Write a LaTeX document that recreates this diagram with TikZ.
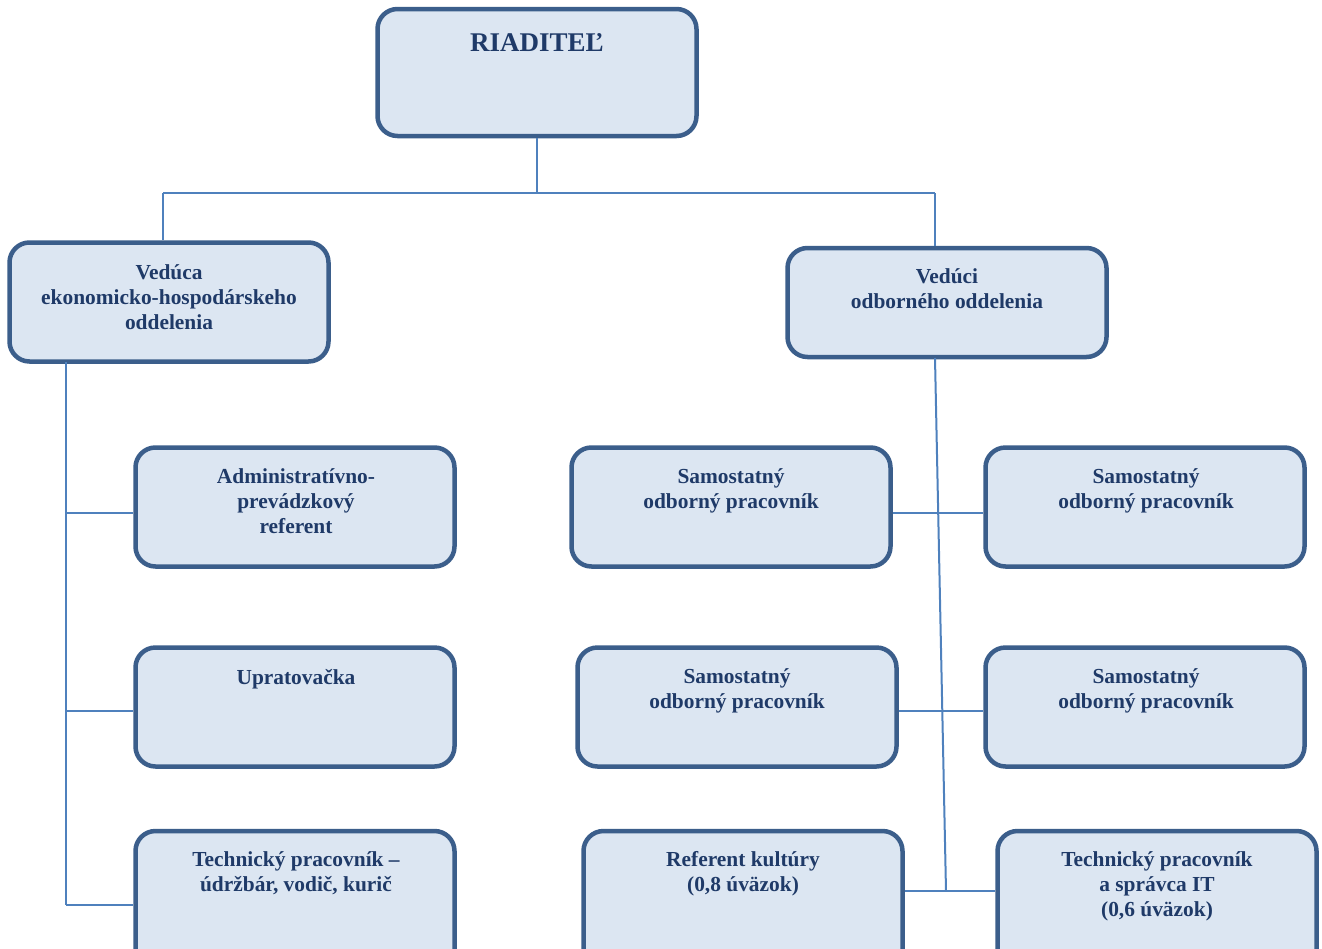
\documentclass[tikz,border=0pt]{standalone}
\usepackage{fontspec}
\setmainfont{Liberation Serif}
\definecolor{boxfill}{RGB}{220,230,242}
\definecolor{boxline}{RGB}{59,94,139}
\definecolor{conn}{RGB}{79,129,189}
\definecolor{txtc}{RGB}{31,58,104}
\newcommand{\fl}{\rule{0pt}{18pt}}
\begin{document}
\begin{tikzpicture}[x=1pt,y=-1pt,
  box/.style={draw=boxline, line width=4.5pt, fill=boxfill, rounded corners=20pt,
    minimum width=319pt, minimum height=119pt, inner sep=0pt},
  txt/.style={font=\bfseries\fontsize{21.4}{25}\selectfont, text=txtc, align=center,
    inner sep=0pt, anchor=north},
  link/.style={draw=conn, line width=2pt}]
\useasboundingbox (0,0) rectangle (1322,948);
\clip (0,0) rectangle (1322,948);
% connector points
\coordinate (jl) at (163,193);
\coordinate (jr) at (935,193);
\coordinate (jm) at (537,193);
\coordinate (ls) at (66,362);
\coordinate (l1) at (66,513);
\coordinate (l2) at (66,711);
\coordinate (l3) at (66,905);
\coordinate (rs) at (935,358);
\coordinate (re) at (946,891);
% boxes
\node[box, minimum height=127pt] (riad) at (537,72.5) {};
\node[box] (ved1) at (169,302) {};
\node[box, minimum height=109pt] (ved2) at (947,302.5) {};
\node[box] (adm) at (295,507) {};
\node[box] (upr) at (295,707) {};
\node[box, minimum height=140pt] (tec1) at (295,901) {};
\node[box] (s1a) at (731,507) {};
\node[box] (s1b) at (1145,507) {};
\node[box] (s2a) at (737,707) {};
\node[box] (s2b) at (1145,707) {};
\node[box, minimum height=140pt] (refk) at (743,901) {};
\node[box, minimum height=140pt] (teit) at (1157,901) {};
% lines
\path[link] (riad.south) -- (jm);
\path[link] (jl) -- (jr);
\path[link] (jl) -- (jl |- ved1.north);
\path[link] (jr) -- (jr |- ved2.north);
\path[link] (ls) -- (l3);
\path[link] (l1) -- (l1 -| adm.west);
\path[link] (l2) -- (l2 -| upr.west);
\path[link] (l3) -- (l3 -| tec1.west);
\path[link] (rs) -- (re);
\path[link] (s1a.east |- 0,513) -- (s1b.west |- 0,513);
\path[link] (s2a.east |- 0,711) -- (s2b.west |- 0,711);
\path[link] (refk.east |- re) -- (teit.west |- re);
% texts
\node[txt, font=\bfseries\fontsize{27}{32}\selectfont] (triad) at (537,27) {\rule{0pt}{24pt}RIADITEĽ};
\node[txt] (tved1) at (169,261) {\fl Vedúca\\ekonomicko-hospodárskeho\\oddelenia};
\node[txt] (tved2) at (947,265) {\fl Vedúci\\odborného oddelenia};
\node[txt] (tadm) at (296,465) {\fl Administratívno-\\prevádzkový\\referent};
\node[txt] (tupr) at (296,666) {\fl Upratovačka};
\node[txt] (ttec1) at (296,848) {\fl Technický pracovník –\\údržbár, vodič, kurič};
\node[txt] (ts1a) at (731,465) {\fl Samostatný\\odborný pracovník};
\node[txt] (ts1b) at (1146,465) {\fl Samostatný\\odborný pracovník};
\node[txt] (ts2a) at (737,665) {\fl Samostatný\\odborný pracovník};
\node[txt] (ts2b) at (1146,665) {\fl Samostatný\\odborný pracovník};
\node[txt] (trefk) at (743,848) {\fl Referent kultúry\\(0,8 úväzok)};
\node[txt] (tteit) at (1157,848) {\fl Technický pracovník\\a správca IT\\(0,6 úväzok)};
\end{tikzpicture}
\end{document}
